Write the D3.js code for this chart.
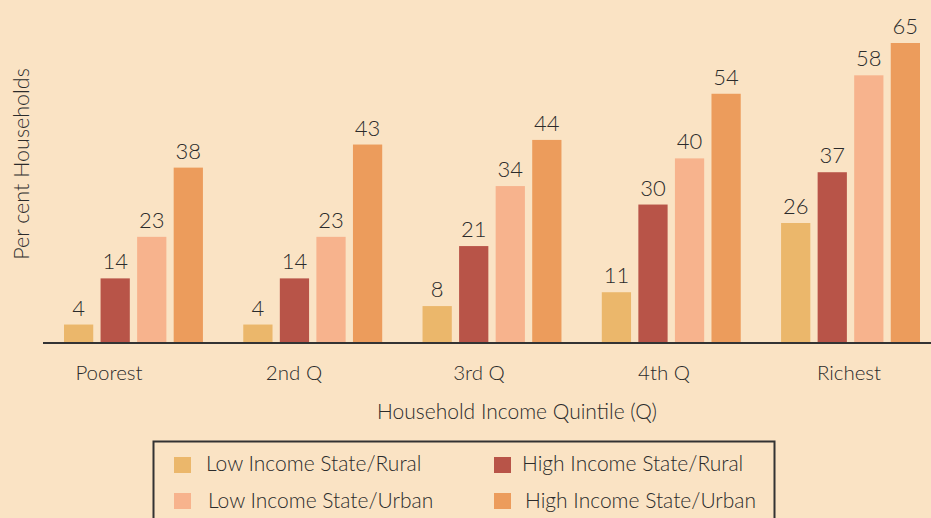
<!DOCTYPE html>
<html>
<head>
<meta charset="utf-8">
<script src="https://cdn.jsdelivr.net/npm/d3@7"></script>
<style>
  html, body { margin: 0; padding: 0; background: #FAE3C4; }
  svg { display: block; }
  text { font-family: Lato, "Noto Sans", sans-serif; fill: #2b2b2b; font-weight: 300; }
</style>
</head>
<body>
<svg id="chart" width="931" height="518"></svg>
<script>
const categories = ["Poorest", "2nd Q", "3rd Q", "4th Q", "Richest"];
const seriesNames = ["Low Income State/Rural", "High Income State/Rural", "Low Income State/Urban", "High Income State/Urban"];
const lowRural   = [4, 4, 8, 11, 26];
const highRural  = [14, 14, 21, 30, 37];
const lowUrban   = [23, 23, 34, 40, 58];
const highUrban  = [38, 43, 44, 54, 65];
const colors = ["#EBB76B", "#B85448", "#F7B38D", "#EC9C5C"];
const yAxisTitle = "Per cent Households";
const xAxisTitle = "Household Income Quintile (Q)";

const series = [lowRural, highRural, lowUrban, highUrban];
const rows = categories.map((c, i) => ({ cat: c, vals: series.map((s, k) => ({ key: seriesNames[k], k, v: s[i] })) }));

const svg = d3.select("#chart");
const W = 931, H = 518;
const baseY = 343;

const x0 = d3.scaleBand().domain(categories).range([64, 920]).paddingInner(0.225).paddingOuter(0);
const x1 = d3.scaleBand().domain(seriesNames).range([0, x0.bandwidth()]).paddingInner(0.2);
const y = d3.scaleLinear().domain([0, 65]).range([baseY, 43]);
const xLab = d3.scalePoint().domain(categories).range([109, 849]);

const groups = svg.append("g").selectAll("g").data(rows).join("g")
  .attr("transform", d => `translate(${x0(d.cat)},0)`);

groups.selectAll("rect").data(d => d.vals).join("rect")
  .attr("x", d => x1(d.key))
  .attr("width", x1.bandwidth())
  .attr("y", d => y(d.v))
  .attr("height", d => y(0) - y(d.v))
  .attr("fill", d => colors[d.k]);

groups.selectAll("text.val").data(d => d.vals).join("text")
  .attr("class", "val")
  .attr("x", d => x1(d.key) + x1.bandwidth() / 2)
  .attr("y", d => y(d.v) - 9)
  .attr("text-anchor", "middle")
  .style("font-size", "22px")
  .text(d => d.v);

// baseline axis
svg.append("line")
  .attr("x1", 43).attr("x2", W)
  .attr("y1", baseY).attr("y2", baseY)
  .attr("stroke", "#333").attr("stroke-width", 2);

// category labels
svg.append("g").selectAll("text").data(categories).join("text")
  .attr("x", d => xLab(d))
  .attr("y", 380)
  .attr("text-anchor", "middle")
  .style("font-size", "20.5px")
  .text(d => d);

// axis titles
svg.append("text")
  .attr("x", 517).attr("y", 419)
  .attr("text-anchor", "middle")
  .style("font-size", "21px")
  .text(xAxisTitle);

svg.append("text")
  .attr("transform", "translate(29,164) rotate(-90)")
  .attr("text-anchor", "middle")
  .style("font-size", "21.5px")
  .text(yAxisTitle);

// legend
const leg = svg.append("g");
leg.append("rect")
  .attr("x", 153.5).attr("y", 441.5)
  .attr("width", 621).attr("height", 90)
  .attr("fill", "none").attr("stroke", "#333").attr("stroke-width", 2);

const legPos = [
  { sx: 174, sy: 457, tx: 206, ty: 471 },
  { sx: 494, sy: 457, tx: 522, ty: 471 },
  { sx: 174, sy: 493, tx: 208, ty: 508 },
  { sx: 494, sy: 493, tx: 525, ty: 508 }
];
const legItems = leg.selectAll("g").data(seriesNames).join("g");
legItems.append("rect")
  .attr("x", (d, i) => legPos[i].sx).attr("y", (d, i) => legPos[i].sy)
  .attr("width", 17).attr("height", 16)
  .attr("fill", (d, i) => colors[i]);
legItems.append("text")
  .attr("x", (d, i) => legPos[i].tx).attr("y", (d, i) => legPos[i].ty)
  .style("font-size", "21px")
  .text(d => d);
</script>
</body>
</html>
